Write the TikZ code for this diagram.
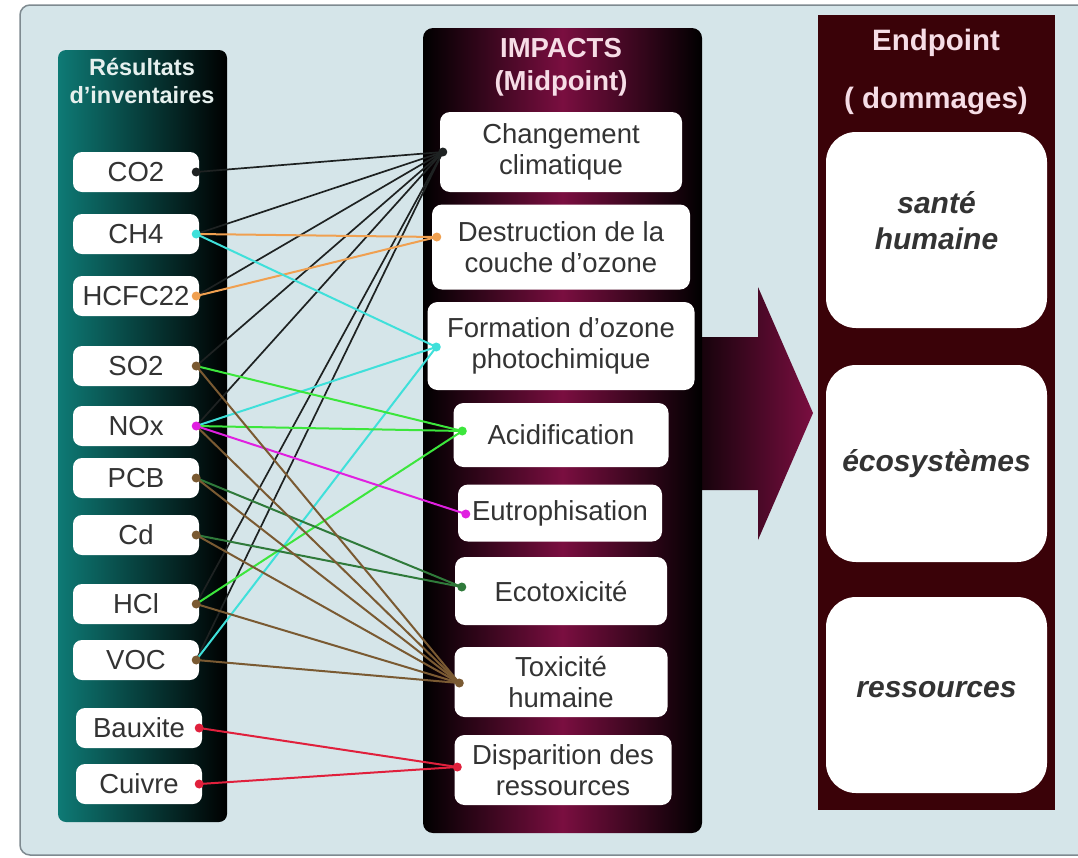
\documentclass[tikz,border=0pt]{standalone}
\usepackage{fontspec}
\setmainfont{Liberation Sans}
\usetikzlibrary{calc}
\definecolor{bgc}{HTML}{D5E5E9}
\definecolor{frame}{HTML}{7E8A90}
\definecolor{tealc}{HTML}{0E7A75}
\definecolor{maroon}{HTML}{7A0E40}
\definecolor{endc}{HTML}{3A0208}
\definecolor{txt}{HTML}{333333}
\definecolor{ttl}{HTML}{E6F0EE}
\definecolor{ttlp}{HTML}{F6DDE6}
\definecolor{cBlack}{HTML}{1E2222}
\definecolor{cOrange}{HTML}{F0A050}
\definecolor{cCyan}{HTML}{3FE0DA}
\definecolor{cGreen}{HTML}{3CE63C}
\definecolor{cMag}{HTML}{E020E0}
\definecolor{cDGreen}{HTML}{2F7A3A}
\definecolor{cBrown}{HTML}{7A5A32}
\definecolor{cRed}{HTML}{E0203C}
\tikzset{
  srcbox/.style={rounded corners=9pt, fill=white, minimum width=126pt, minimum height=40pt,
    inner sep=0pt, text=txt, font=\fontsize{27.5}{31}\selectfont},
  impbox/.style={rounded corners=10pt, fill=white, inner sep=0pt, align=center, text=txt,
    font=\fontsize{27.5}{31}\selectfont},
  endbox/.style={rounded corners=30pt, fill=white, inner sep=0pt, minimum width=221pt, minimum height=196pt},
  endtxt/.style={align=center, text=txt, font=\fontsize{30}{36}\selectfont\bfseries\itshape},
  coltitle/.style={align=center, font=\fontsize{23.5}{28}\selectfont\bfseries},
  lk/.style={line width=2pt},
  portdot/.style={circle, fill=#1, inner sep=0pt, minimum size=9pt}
}
\begin{document}
\begin{tikzpicture}[x=1pt,y=-1pt]
\useasboundingbox (0,0) rectangle (1078,857);
% background frame
\path[fill=white] (0,0) rectangle (1078,857);
\draw[fill=bgc, draw=frame, line width=1.5pt, rounded corners=10pt] (20,5) rectangle (1095,855);

% arrow (behind impacts column)
\path[left color=black!90!maroon, right color=maroon]
  (690,337) -- (758,337) -- (758,287) -- (813,413) -- (758,540) -- (758,490) -- (690,490) -- cycle;

% columns
\path[left color=tealc, right color=black, rounded corners=8pt] (58,50) rectangle (227,822);
\path[left color=black, right color=black, middle color=maroon, rounded corners=10pt] (423,28) rectangle (702,833);
\path[fill=endc] (818,15) rectangle (1055,810);

% column titles
\node[coltitle, text=ttl] (tInv) at (142,81) {Résultats\\d'inventaires};
\node[coltitle, text=ttlp, font=\fontsize{27.5}{33}\selectfont\bfseries] (tImp) at (561,67) {IMPACTS\\(Midpoint)};
\node[coltitle, text=ttlp, font=\fontsize{29.5}{58}\selectfont\bfseries] (tEnd) at (936,72) {Endpoint\\( dommages)};

% source boxes
\node[srcbox] (co2) at (136,172) {CO2};
\node[srcbox] (ch4) at (136,234) {CH4};
\node[srcbox] (hcfc) at (136,296) {HCFC22};
\node[srcbox] (so2) at (136,366) {SO2};
\node[srcbox] (nox) at (136,426) {NOx};
\node[srcbox] (pcb) at (136,478) {PCB};
\node[srcbox] (cd) at (136,535) {Cd};
\node[srcbox] (hcl) at (136,604) {HCl};
\node[srcbox] (voc) at (136,660) {VOC};
\node[srcbox] (baux) at (139,728) {Bauxite};
\node[srcbox] (cuiv) at (139,784) {Cuivre};

% impact boxes
\node[impbox, minimum width=242pt, minimum height=80pt] (cc) at (561,152) {Changement\\climatique};
\node[impbox, minimum width=258pt, minimum height=85pt] (dest) at (561,247) {Destruction de la\\couche d'ozone};
\node[impbox, minimum width=267pt, minimum height=88pt] (form) at (561,346) {Formation d'ozone\\photochimique};
\node[impbox, minimum width=215pt, minimum height=64pt] (acid) at (561,435) {Acidification};
\node[impbox, minimum width=204pt, minimum height=57pt] (eutro) at (560,513) {Eutrophisation};
\node[impbox, minimum width=212pt, minimum height=68pt] (eco) at (561,591) {Ecotoxicité};
\node[impbox, minimum width=213pt, minimum height=70pt] (tox) at (561,682) {Toxicité\\humaine};
\node[impbox, minimum width=217pt, minimum height=70pt] (disp) at (563,770) {Disparition des\\ressources};

% endpoint boxes
\node[endbox] (sh) at (936.5,230) {};
\node[endbox, minimum height=197pt] (eco2) at (936.5,463.5) {};
\node[endbox] (res) at (936.5,695) {};
\node[endtxt] (shT) at (936.5,221) {santé\\humaine};
\node[endtxt] (ecoT) at (936.5,464) {écosystèmes};
\node[endtxt] (resT) at (936.5,690) {ressources};

% ports
\foreach \n in {co2,ch4,hcfc,so2,nox,pcb,cd,hcl,voc,baux,cuiv}{
  \coordinate (p\n) at ($(\n.east)+(-3,0)$);
}
\coordinate (qcc) at ($(cc.west)+(3,0)$);
\coordinate (qdest) at ($(dest.west)+(5,-10)$);
\coordinate (qform) at ($(form.west)+(9,1)$);
\coordinate (qacid) at ($(acid.west)+(9,-4)$);
\coordinate (qeutro) at ($(eutro.west)+(8,1)$);
\coordinate (qeco) at ($(eco.west)+(7,-4)$);
\coordinate (qtox) at ($(tox.west)+(5,1)$);
\coordinate (qdisp) at ($(disp.west)+(3,-3)$);

% connectors
\foreach \s in {co2,ch4,hcfc,so2,nox,hcl,voc}{
  \draw[lk, cBlack, line width=1.7pt] (p\s) -- (qcc);
}
\foreach \s in {ch4,hcfc}{ \draw[lk, cOrange] (p\s) -- (qdest); }
\foreach \s in {ch4,nox,voc}{ \draw[lk, cCyan] (p\s) -- (qform); }
\foreach \s in {so2,nox,hcl}{ \draw[lk, cGreen] (p\s) -- (qacid); }
\draw[lk, cMag] (pnox) -- (qeutro);
\foreach \s in {pcb,cd}{ \draw[lk, cDGreen] (p\s) -- (qeco); }
\foreach \s in {so2,nox,pcb,cd,hcl,voc}{ \draw[lk, cBrown] (p\s) -- (qtox); }
\foreach \s in {baux,cuiv}{ \draw[lk, cRed] (p\s) -- (qdisp); }

% dots
\node[portdot=cBlack] (dco2) at (pco2) {};
\node[portdot=cCyan] (dch4) at (pch4) {};
\node[portdot=cOrange] (dhcfc) at (phcfc) {};
\node[portdot=cBrown] (dso2) at (pso2) {};
\node[portdot=cMag] (dnox) at (pnox) {};
\node[portdot=cBrown] (dpcb) at (ppcb) {};
\node[portdot=cBrown] (dcd) at (pcd) {};
\node[portdot=cBrown] (dhcl) at (phcl) {};
\node[portdot=cBrown] (dvoc) at (pvoc) {};
\node[portdot=cRed] (dbaux) at (pbaux) {};
\node[portdot=cRed] (dcuiv) at (pcuiv) {};
\node[portdot=cBlack] (dcc) at (qcc) {};
\node[portdot=cOrange] (ddest) at (qdest) {};
\node[portdot=cCyan] (dform) at (qform) {};
\node[portdot=cGreen] (dacid) at (qacid) {};
\node[portdot=cMag] (deutro) at (qeutro) {};
\node[portdot=cDGreen] (deco) at (qeco) {};
\node[portdot=cBrown] (dtox) at (qtox) {};
\node[portdot=cRed] (ddisp) at (qdisp) {};
\end{tikzpicture}
\end{document}
